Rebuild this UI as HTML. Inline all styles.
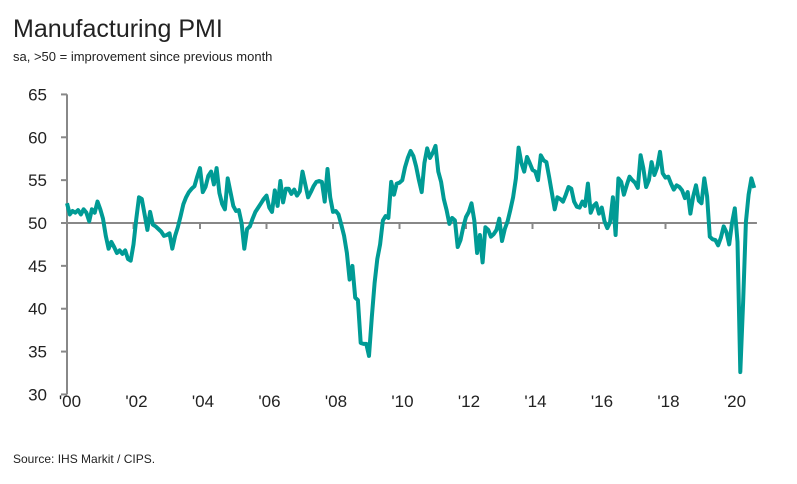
<!DOCTYPE html>
<html><head><meta charset="utf-8"><style>
body{margin:0;background:#fff;width:797px;height:479px;overflow:hidden;font-family:"Liberation Sans",sans-serif}
</style></head><body>
<svg width="797" height="479">
<text x="13" y="37" font-size="25" fill="#222">Manufacturing PMI</text>
<text x="13" y="61" font-size="13" fill="#222">sa, &gt;50 = improvement since previous month</text>
<g id="yaxis"></g>
<g id="xaxis"></g>
<path id="line" fill="none" stroke="#009b95" stroke-width="4" stroke-linejoin="round"></path>
<text x="13" y="463" font-size="12" fill="#222">Source: IHS Markit / CIPS.</text>
</svg>
<script>
const yTicks=[30,35,40,45,50,55,60,65];
const xTickLabels=["'00","'02","'04","'06","'08","'10","'12","'14","'16","'18","'20"];
const startYear=2000;
const pmi=[
52.3,51.0,51.4,51.2,51.5,51.0,51.6,51.2,50.2,51.6,51.2,52.5,
51.6,50.5,48.5,47.0,47.8,47.2,46.5,46.8,46.4,46.8,45.8,45.6,
47.5,50.5,53.0,52.8,51.0,49.2,51.3,49.8,49.6,49.3,49.0,48.5,
48.6,48.8,47.0,48.5,49.5,50.8,52.2,53.0,53.6,54.0,54.3,55.4,
56.4,53.6,54.2,55.5,56.0,54.5,56.4,53.5,52.2,51.6,55.2,53.6,
52.0,51.4,51.5,50.0,47.0,49.3,49.6,50.5,51.3,51.8,52.3,52.8,
53.2,51.8,51.3,53.8,52.0,54.9,52.4,54.0,54.0,53.4,53.9,53.2,
53.7,56.0,54.5,53.0,53.6,54.3,54.8,54.9,54.8,52.5,56.3,53.0,
51.3,51.4,51.0,49.8,48.5,46.5,43.4,45.0,41.3,41.0,36.0,35.9,
35.9,34.5,39.0,43.0,45.8,47.5,50.3,50.8,50.6,54.8,53.3,54.6,
54.7,55.0,56.5,57.6,58.4,57.8,56.6,55.0,53.6,57.0,58.7,57.6,
58.2,59.0,56.0,54.8,52.8,51.5,49.9,50.6,50.3,47.2,48.0,49.5,
50.7,51.3,52.3,50.3,46.5,48.6,45.4,49.5,49.2,48.4,48.7,49.2,
50.5,47.9,49.3,50.2,51.5,53.0,55.2,58.8,57.0,56.0,57.7,57.0,
56.2,56.0,55.0,57.9,57.3,57.1,55.4,53.5,51.6,53.0,52.8,52.5,
53.3,54.2,54.0,52.5,51.9,51.8,52.5,52.0,54.6,51.2,52.0,52.3,
51.1,51.8,50.2,49.4,50.1,53.0,48.6,55.2,54.8,53.3,54.4,55.4,
55.0,54.7,54.1,57.9,56.4,54.2,55.0,57.1,55.6,56.5,58.3,55.8,
55.3,55.4,54.6,53.9,54.4,54.2,53.8,52.9,53.6,51.1,53.1,54.4,
52.6,52.3,55.2,53.1,48.4,48.1,48.0,47.4,48.3,49.6,48.9,47.5,
50.0,51.7,47.8,32.6,40.7,50.1,53.3,55.2,54.1];
const NS='http://www.w3.org/2000/svg';
const x0=67,pxPerYear=33.25;
function xs(i){return x0+i*pxPerYear/12;}
function ys(v){return 223-(v-50)*(300/35);}
const ya=document.getElementById('yaxis'),xa=document.getElementById('xaxis');
function mk(tag,attrs,parent){const e=document.createElementNS(NS,tag);for(const k in attrs)e.setAttribute(k,attrs[k]);parent.appendChild(e);return e;}
mk('line',{x1:67,x2:67,y1:ys(65),y2:ys(30),stroke:'#888','stroke-width':2},ya);
yTicks.forEach(v=>{
  const t=mk('line',{x1:61,x2:67,y1:ys(v),y2:ys(v),stroke:'#888','stroke-width':2},ya);
  
  
  const l=mk('text',{x:47,y:ys(v)+6,'font-size':17,fill:'#222','text-anchor':'end'},ya);
  l.textContent=v;
  
  
});
mk('line',{x1:67,x2:xs(pmi.length),y1:ys(50),y2:ys(50),stroke:'#888','stroke-width':2},xa);
xTickLabels.forEach((s,k)=>{
  const x=xs(k*24);
  if(k>0){const t=mk('line',{x1:x,x2:x,y1:ys(50),y2:ys(50)+6,stroke:'#888','stroke-width':2},xa);
  
  }
  const l=mk('text',{x:x+3,y:407,'font-size':17,fill:'#222','text-anchor':'middle'},xa);
  l.textContent=s;
  
  
});
document.getElementById('line').setAttribute('d',pmi.map((v,i)=>(i?'L':'M')+xs(i).toFixed(1)+','+ys(v).toFixed(1)).join(''));
</script>
</body></html>
